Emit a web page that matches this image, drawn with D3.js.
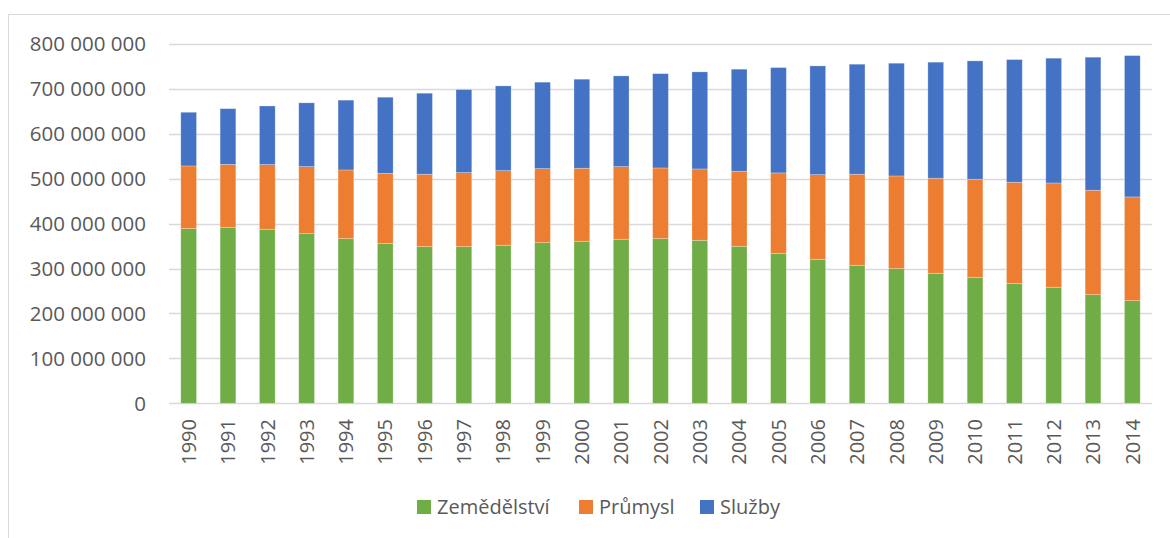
<!DOCTYPE html>
<html>
<head>
<meta charset="utf-8">
<script src="https://cdn.jsdelivr.net/npm/d3@7"></script>
<style>
  html, body { margin: 0; padding: 0; background: #fff; }
  svg { display: block; }
  text { font-family: "Open Sans", "Noto Sans", sans-serif; fill: #595959; }
</style>
</head>
<body>
<svg id="chart" width="1170" height="538"></svg>
<script>
const years = ["1990","1991","1992","1993","1994","1995","1996","1997","1998","1999","2000","2001","2002","2003","2004","2005","2006","2007","2008","2009","2010","2011","2012","2013","2014"];
const seriesNames = ["Zemědělství", "Průmysl", "Služby"];
const zemedelstvi = [389, 392, 387.5, 377.7, 366.6, 355.5, 348.8, 348.8, 351.9, 357.7, 360.8, 365.3, 366.6, 363, 349.7, 334, 320.7, 307.3, 299.8, 289.5, 280.6, 266.4, 258.4, 241.9, 228.5].map(v => v * 1e6);
const prumysl = [139.5, 140, 144, 149.3, 153, 156.5, 161.2, 164.8, 166.1, 164.8, 162.6, 161.7, 157.4, 158.8, 167, 179, 188.4, 202.7, 206.4, 211.6, 218.3, 225.8, 232.2, 232.5, 231].map(v => v * 1e6);
const sluzby = [119.5, 124, 130.5, 142, 155.4, 169.5, 180.4, 184.9, 188.7, 192.5, 198.2, 202, 210, 216.1, 227.2, 234.5, 242.1, 245, 251, 258.4, 263.5, 273.1, 277.8, 296.2, 314.7].map(v => v * 1e6);
const yTicks = [0, 100e6, 200e6, 300e6, 400e6, 500e6, 600e6, 700e6, 800e6];
const colors = ["#70AD47", "#ED7D31", "#4472C4"];

const svg = d3.select("#chart");

// outer frame (partial, as in reference)
svg.append("path")
  .attr("d", "M8.5,538 L8.5,14.5 L1170,14.5")
  .attr("fill", "none").attr("stroke", "#d9d9d9").attr("stroke-width", 1);

const x = d3.scaleBand().domain(years).range([169, 1152]).paddingInner(0.6).paddingOuter(0.3);
const y = d3.scaleLinear().domain([0, 800e6]).range([403.3, 44]);

const fmt = v => d3.format(",")(v).replace(/,/g, " ");

// gridlines
svg.append("g").selectAll("line").data(yTicks).join("line")
  .attr("x1", 169).attr("x2", 1152)
  .attr("y1", d => Math.round(y(d)) + 0.5).attr("y2", d => Math.round(y(d)) + 0.5)
  .attr("stroke", "#d9d9d9").attr("stroke-width", 1.3);

// y labels
svg.append("g").selectAll("text").data(yTicks).join("text")
  .attr("x", 146).attr("y", d => y(d)).attr("dy", "0.36em")
  .attr("text-anchor", "end").attr("font-size", 20.5)
  .text(d => fmt(d));

// stacked data
const table = years.map((yr, i) => ({ year: yr, "Zemědělství": zemedelstvi[i], "Průmysl": prumysl[i], "Služby": sluzby[i] }));
const stack = d3.stack().keys(seriesNames)(table);

svg.append("g").selectAll("g").data(stack).join("g")
  .attr("fill", (d, i) => colors[i])
  .selectAll("rect").data(d => d).join("rect")
  .attr("x", d => x(d.data.year))
  .attr("width", x.bandwidth())
  .attr("y", d => y(d[1]))
  .attr("height", d => y(d[0]) - y(d[1]))
  .attr("stroke", "#ffffff").attr("stroke-opacity", 0.35).attr("stroke-width", 0.75);

// x labels rotated
svg.append("g").selectAll("text").data(years).join("text")
  .attr("transform", d => `translate(${x(d) + x.bandwidth() / 2},419) rotate(-90)`)
  .attr("text-anchor", "end").attr("dy", "0.36em")
  .attr("font-size", 20)
  .text(d => d);

// legend
const legendX = [417, 579, 700];
const lg = svg.append("g").selectAll("g").data(seriesNames).join("g")
  .attr("transform", (d, i) => `translate(${legendX[i]},500)`);
lg.append("rect").attr("width", 14).attr("height", 14).attr("fill", (d, i) => colors[i]);
lg.append("text").attr("x", 20).attr("y", 14).attr("font-size", 20).text(d => d);
</script>
</body>
</html>
